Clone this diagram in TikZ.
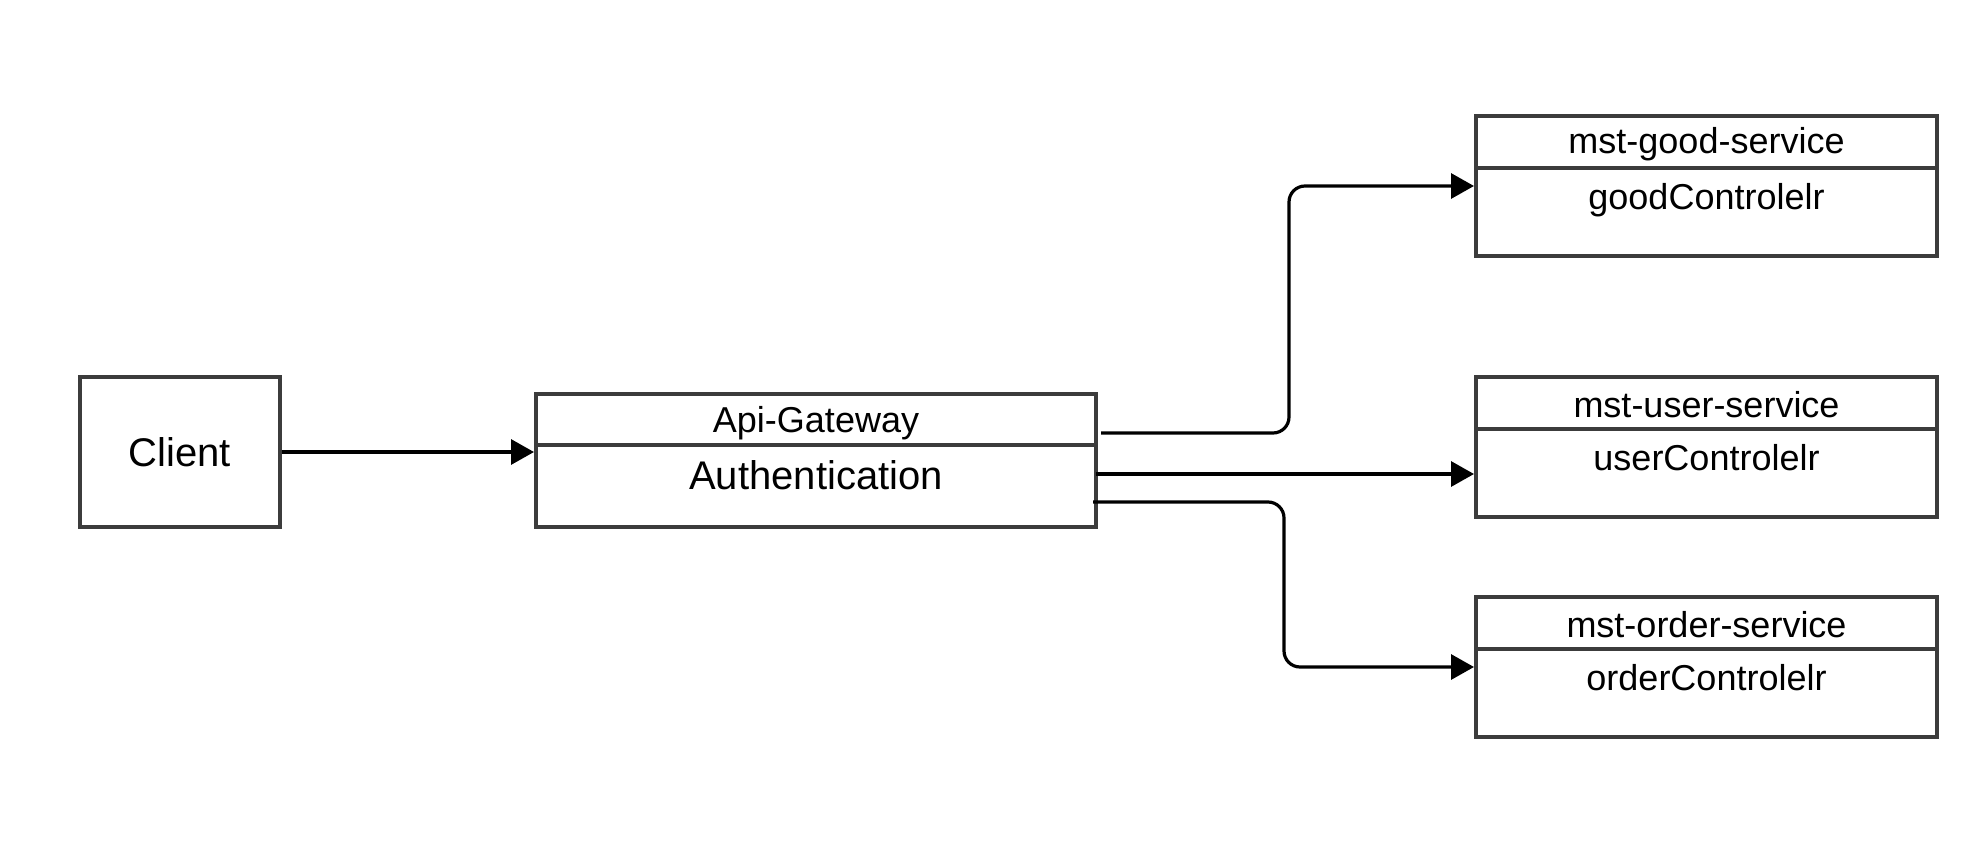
\documentclass[tikz,border=0pt]{standalone}
\usepackage{fontspec}
\setmainfont{Liberation Sans}
\usetikzlibrary{arrows.meta}
\definecolor{boxgray}{HTML}{3C3C3C}
\tikzset{
  box/.style={draw=boxgray, line width=2pt, fill=white, inner sep=0pt},
  svc/.style={box, minimum width=230.5pt, minimum height=70pt},
  svctitle/.style={box, minimum width=230.5pt, minimum height=26pt, anchor=north, font=\fontsize{18}{20}\selectfont},
  titletext/.style={inner sep=0pt, font=\fontsize{18}{20}\selectfont},
  body/.style={anchor=base, font=\fontsize{18}{20}\selectfont, inner sep=0pt},
  conn/.style={draw=black, line width=1.6pt, -{Triangle[length=11.5pt,width=12.5pt]}, rounded corners=8pt}
}
\begin{document}
\begin{tikzpicture}[x=0.5pt,y=-0.5pt]
\useasboundingbox (0,0) rectangle (1986,846);
% Client
\node[box, minimum width=100pt, minimum height=75pt, font=\fontsize{20}{24}\selectfont] (client) at (180,452) {Client};
% Gateway
\node[box, minimum width=280pt, minimum height=66.5pt] (gw) at (816,460.5) {};
\node[box, minimum width=280pt, minimum height=25.5pt, anchor=north] (gwt) at (gw.north) {};
\node[titletext] (gwtt) at (816,423) {Api-Gateway};
\node[anchor=base, inner sep=0pt, font=\fontsize{20}{24}\selectfont] (gwb) at (816,489) {Authentication};
% Services
\node[svc] (good) at (1706.5,186) {};
\node[svctitle] (goodt) at (good.north) {};
\node[titletext] (goodtt) at (1706.5,144) {mst-good-service};
\node[body] (goodb) at (1706.5,209) {goodControlelr};

\node[svc] (user) at (1706.5,447) {};
\node[svctitle] (usert) at (user.north) {};
\node[titletext] (usertt) at (1706.5,405) {mst-user-service};
\node[body] (userb) at (1706.5,470) {userControlelr};

\node[svc] (order) at (1706.5,667) {};
\node[svctitle] (ordert) at (order.north) {};
\node[titletext] (ordertt) at (1706.5,625) {mst-order-service};
\node[body] (orderb) at (1706.5,690) {orderControlelr};
% Connectors
\coordinate (s1) at (1101,433);
\coordinate (s2) at (1096,474);
\coordinate (s3) at (1093,502);
\draw[conn] (client.east) -- (client.east -| gw.west);
\draw[conn] (s1) -| (1289,186) -- (good.west);
\draw[conn] (s2) -- (s2 -| user.west);
\draw[conn] (s3) -| (1284,667) -- (order.west);
\end{tikzpicture}
\end{document}
